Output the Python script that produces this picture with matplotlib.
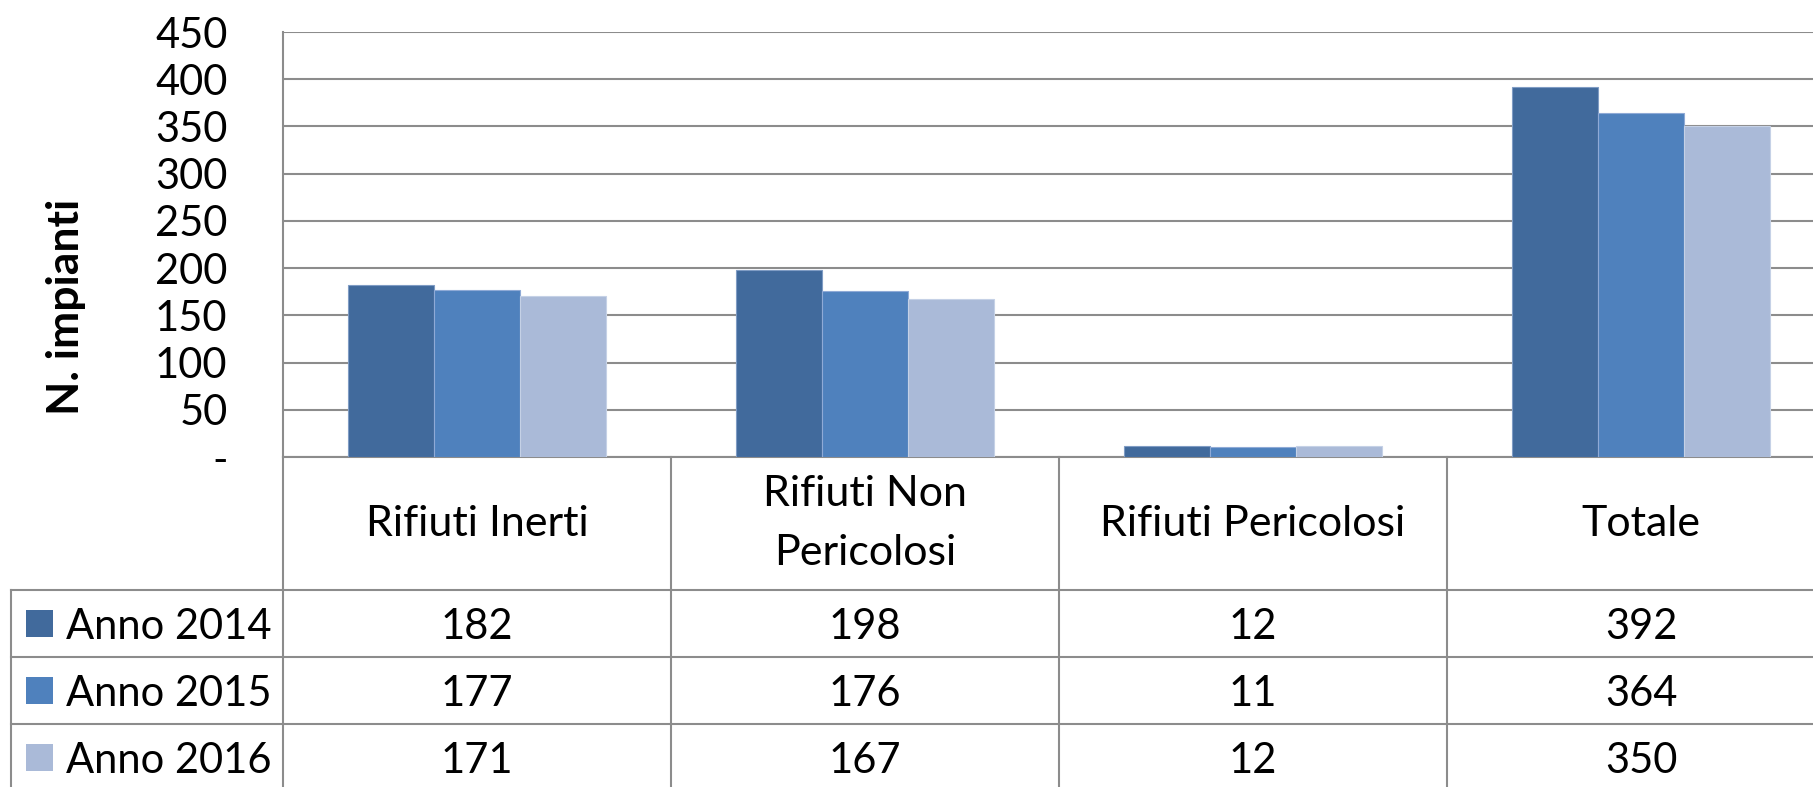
import matplotlib
matplotlib.use('Agg')
import matplotlib.pyplot as plt
from matplotlib.transforms import blended_transform_factory
from matplotlib.patches import Rectangle
from matplotlib.lines import Line2D

# ---- data ----
categories = ['Rifiuti Inerti', 'Rifiuti Non\nPericolosi', 'Rifiuti Pericolosi', 'Totale']
series_names = ['Anno 2014', 'Anno 2015', 'Anno 2016']
anno_2014 = [182, 198, 12, 392]
anno_2015 = [177, 176, 11, 364]
anno_2016 = [171, 167, 12, 350]
y_ticks = [0, 50, 100, 150, 200, 250, 300, 350, 400, 450]
y_tick_labels = ['-', '50', '100', '150', '200', '250', '300', '350', '400', '450']
y_label = 'N. impianti'

series_values = [anno_2014, anno_2015, anno_2016]
colors = ['#416A9C', '#4F81BD', '#AABAD8']
edge_colors = ['#7F9CC4', '#8FAAD6', '#C5D1E6']

plt.rcParams['font.family'] = ['Lato', 'DejaVu Sans']
FS = 30
GRID = '#8C8C8C'

W, H = 1813, 787
fig = plt.figure(figsize=(W / 100, H / 100), dpi=100)
fig.patch.set_facecolor('white')


def fx(px):
    return px / W


def fy(py):
    return 1 - py / H


AX_L, AX_R, AX_T, AX_B = 283, 1835, 32, 457
ax = fig.add_axes([fx(AX_L), fy(AX_B), (AX_R - AX_L) / W, (AX_B - AX_T) / H])

n = len(categories)
bw = 0.2216
xs = list(range(n))
for i, (vals, c, ec) in enumerate(zip(series_values, colors, edge_colors)):
    off = (i - 1) * bw
    ax.bar([x + off for x in xs], vals, width=bw, color=c, edgecolor=ec,
           linewidth=0.8, zorder=3, label=series_names[i])

ax.set_xlim(-0.5, n - 0.5)
ax.set_ylim(0, 450)
ax.set_yticks(y_ticks)
ax.set_yticklabels(y_tick_labels, fontsize=FS)
ax.set_xticks([])
ax.tick_params(axis='y', length=0, pad=40)
ax.yaxis.grid(True, color=GRID, linewidth=1.5, zorder=0)
ax.set_axisbelow(True)
for s in ['top', 'right']:
    ax.spines[s].set_visible(False)
for s in ['left', 'bottom']:
    ax.spines[s].set_color(GRID)
    ax.spines[s].set_linewidth(1.5)

# y label
fig.text(fx(66), fy(307), y_label, rotation=90, fontsize=32, fontweight='bold',
         ha='center', va='center')

# ---- data table below ----
blend = blended_transform_factory(ax.transData, fig.transFigure)
row_lines = [590, 657, 724]
bottom = 800

# vertical boundaries between categories
for b in [k - 0.5 for k in range(n + 1)]:
    fig.add_artist(Line2D([b, b], [fy(AX_B), fy(bottom)], transform=blend,
                          color=GRID, linewidth=1.5, clip_on=False))
# legend column left border
fig.add_artist(Line2D([fx(11), fx(11)], [fy(row_lines[0]), fy(bottom)],
                      transform=fig.transFigure, color=GRID, linewidth=1.5))
# horizontal row lines
for ry in row_lines:
    fig.add_artist(Line2D([fx(11), 1.0], [fy(ry), fy(ry)],
                          transform=fig.transFigure, color=GRID, linewidth=1.5))

# header labels
for k, cat in enumerate(categories):
    fig.text(k, fy((AX_B + row_lines[0]) / 2), cat, transform=blend, fontsize=31,
             ha='center', va='center', linespacing=1.65)

# rows
row_centers = [(row_lines[0] + row_lines[1]) / 2, (row_lines[1] + row_lines[2]) / 2,
               row_lines[2] + (row_lines[1] - row_lines[0]) / 2]
for i, (name, vals, c) in enumerate(zip(series_names, series_values, colors)):
    cy = row_centers[i]
    fig.add_artist(Rectangle((fx(26), fy(cy + 13.5)), 27 / W, 27 / H,
                             transform=fig.transFigure, facecolor=c, edgecolor='none'))
    fig.text(fx(66), fy(cy), name, fontsize=FS, ha='left', va='center_baseline')
    for k, v in enumerate(vals):
        fig.text(k, fy(cy), str(v), transform=blend, fontsize=FS,
                 ha='center', va='center_baseline')

fig.savefig('out.png', dpi=100, facecolor='white')
